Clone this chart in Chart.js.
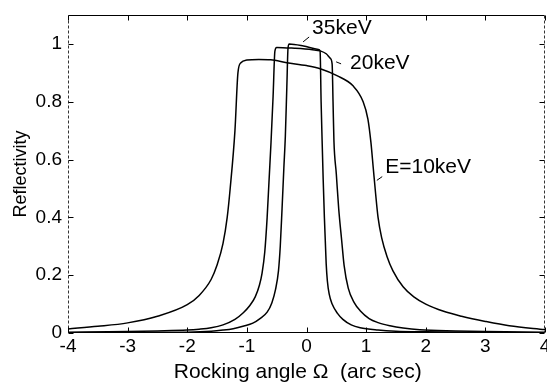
<!DOCTYPE html>
<html>
<head>
<meta charset="utf-8">
<script src="https://cdn.jsdelivr.net/npm/chart.js@4/dist/chart.umd.min.js"></script>
<style>
  html, body { margin: 0; padding: 0; background: #fff; }
  #wrap { width: 547px; height: 385px; }
</style>
</head>
<body>
<div id="wrap"><canvas id="chart" width="547" height="385"></canvas></div>
<script>
// Rocking curves: reflectivity vs. rocking angle (arc sec) at three photon energies
const angle10 = [-4, -3.5, -3, -2.5, -2, -1.8, -1.6, -1.5, -1.4, -1.33, -1.28, -1.2, -1.15, -1.1, -1.0, -0.8, -0.6, -0.33, 0, 0.23, 0.51, 0.78, 0.95, 1.03, 1.08, 1.12, 1.16, 1.2, 1.26, 1.35, 1.45, 1.62, 1.8, 2.0, 2.3, 2.6, 3.0, 3.4, 4];
const refl10  = [0.014, 0.023, 0.035, 0.058, 0.098, 0.13, 0.185, 0.235, 0.31, 0.40, 0.50, 0.70, 0.90, 0.935, 0.944, 0.946, 0.945, 0.935, 0.925, 0.914, 0.89, 0.855, 0.80, 0.74, 0.66, 0.57, 0.48, 0.40, 0.33, 0.265, 0.215, 0.16, 0.125, 0.10, 0.075, 0.058, 0.04, 0.025, 0.012];

const angle20 = [-4, -3, -2.5, -2, -1.8, -1.6, -1.4, -1.2, -1.06, -0.95, -0.86, -0.79, -0.745, -0.7, -0.66, -0.63, -0.595, -0.56, -0.53, -0.5, -0.2, 0.1, 0.23, 0.33, 0.40, 0.43, 0.445, 0.46, 0.50, 0.54, 0.59, 0.63, 0.70, 0.80, 0.90, 1.05, 1.2, 1.4, 1.62, 1.9, 2.5, 3, 4];
const refl20  = [0.003, 0.005, 0.007, 0.01, 0.013, 0.018, 0.028, 0.047, 0.07, 0.095, 0.125, 0.165, 0.207, 0.28, 0.40, 0.52, 0.66, 0.82, 0.975, 0.988, 0.985, 0.98, 0.976, 0.966, 0.95, 0.93, 0.80, 0.665, 0.55, 0.43, 0.32, 0.235, 0.155, 0.105, 0.077, 0.05, 0.036, 0.025, 0.017, 0.011, 0.007, 0.005, 0.003];

const angle35 = [-4, -3, -2, -1.6, -1.4, -1.23, -1.05, -0.9, -0.78, -0.66, -0.58, -0.52, -0.47, -0.44, -0.41, -0.38, -0.355, -0.33, -0.31, -0.29, -0.05, 0.2, 0.228, 0.245, 0.262, 0.28, 0.30, 0.315, 0.33, 0.35, 0.38, 0.43, 0.52, 0.61, 0.75, 0.9, 1.2, 1.5, 2, 3, 4];
const refl35  = [0.001, 0.002, 0.003, 0.006, 0.01, 0.015, 0.024, 0.034, 0.05, 0.072, 0.105, 0.15, 0.215, 0.30, 0.43, 0.57, 0.68, 0.85, 0.985, 1.0, 0.993, 0.981, 0.975, 0.80, 0.665, 0.53, 0.40, 0.32, 0.24, 0.18, 0.135, 0.10, 0.068, 0.047, 0.028, 0.018, 0.01, 0.006, 0.004, 0.002, 0.001];

const xTicks = [-4, -3, -2, -1, 0, 1, 2, 3, 4];
const yTicks = [0, 0.2, 0.4, 0.6, 0.8, 1];

// Curve labels with short leader strokes, in data units
const curveLabels = [
  { text: '35keV',   at: [0.094, 1.055], lead: [[-0.057, 1.007], [0.044, 1.024]] },
  { text: '20keV',   at: [0.73, 0.934],  lead: [[0.497, 0.938], [0.58, 0.931]] },
  { text: 'E=10keV', at: [1.32, 0.575],  lead: [[1.18, 0.528], [1.27, 0.541]] }
];

const FONT = "'Liberation Sans', Arial, sans-serif";

const pairs = (xs, ys) => xs.map((x, i) => ({ x, y: ys[i] }));
const curve = (label, xs, ys) => ({
  label,
  data: pairs(xs, ys),
  borderColor: '#000',
  borderWidth: 1.5,
  pointRadius: 0,
  fill: false,
  cubicInterpolationMode: 'monotone'
});

// Box frame with inward tick marks on all four sides
const frameTicks = {
  id: 'frameTicks',
  afterDatasetsDraw(chart) {
    const { ctx, chartArea: a, scales: { x, y } } = chart;
    const L = Math.round(a.left) + 0.5, R = Math.round(a.right) - 0.5;
    const T = Math.round(a.top) + 0.5, B = Math.round(a.bottom) - 0.5;
    ctx.save();
    ctx.lineWidth = 1;
    ctx.strokeStyle = '#000';
    ctx.beginPath();
    ctx.moveTo(L, T); ctx.lineTo(R, T);
    ctx.moveTo(L, B); ctx.lineTo(R, B);
    ctx.stroke();
    ctx.strokeStyle = '#333';
    ctx.setLineDash([3, 2]);
    ctx.beginPath();
    ctx.moveTo(L, T); ctx.lineTo(L, B);
    ctx.moveTo(R, T); ctx.lineTo(R, B);
    ctx.stroke();
    ctx.setLineDash([]);
    ctx.strokeStyle = '#000';
    const len = 5;
    ctx.beginPath();
    xTicks.forEach(v => {
      const px = Math.round(x.getPixelForValue(v)) + 0.5;
      ctx.moveTo(px, B); ctx.lineTo(px, B - len);
      ctx.moveTo(px, T); ctx.lineTo(px, T + len);
    });
    yTicks.forEach(v => {
      const py = Math.round(y.getPixelForValue(v)) + 0.5;
      ctx.moveTo(L, py); ctx.lineTo(L + len, py);
      ctx.moveTo(R, py); ctx.lineTo(R - len, py);
    });
    ctx.stroke();
    ctx.restore();
  }
};

// Energy labels beside the curves
const energyLabels = {
  id: 'energyLabels',
  afterDatasetsDraw(chart) {
    const { ctx, scales: { x, y } } = chart;
    ctx.save();
    ctx.fillStyle = '#000';
    ctx.strokeStyle = '#000';
    ctx.lineWidth = 1;
    ctx.font = '21px ' + FONT;
    ctx.textAlign = 'left';
    ctx.textBaseline = 'middle';
    curveLabels.forEach(l => {
      ctx.fillText(l.text, x.getPixelForValue(l.at[0]), y.getPixelForValue(l.at[1]));
      ctx.beginPath();
      ctx.moveTo(x.getPixelForValue(l.lead[0][0]), y.getPixelForValue(l.lead[0][1]));
      ctx.lineTo(x.getPixelForValue(l.lead[1][0]), y.getPixelForValue(l.lead[1][1]));
      ctx.stroke();
    });
    ctx.restore();
  }
};

new Chart(document.getElementById('chart'), {
  type: 'line',
  data: {
    datasets: [
      curve('E=10keV', angle10, refl10),
      curve('20keV', angle20, refl20),
      curve('35keV', angle35, refl35)
    ]
  },
  options: {
    responsive: false,
    animation: false,
    devicePixelRatio: 1,
    layout: { padding: { left: 0, right: 2, top: 15, bottom: 0 } },
    plugins: { legend: { display: false }, tooltip: { enabled: false } },
    scales: {
      x: {
        type: 'linear',
        min: -4, max: 4,
        grid: { display: false, drawTicks: false },
        border: { display: false },
        afterBuildTicks: s => { s.ticks = xTicks.map(v => ({ value: v })); },
        ticks: { color: '#000', padding: 2, maxRotation: 0, autoSkip: false,
                 font: { family: FONT, size: 19 } },
        title: { display: true, text: 'Rocking angle \u03A9  (arc sec)   ', color: '#000',
                 padding: { top: 0, bottom: 0 }, font: { family: FONT, size: 21 } },
        afterFit: s => { s.height = 52; s.paddingLeft = 0; s.paddingRight = 0; }
      },
      y: {
        min: 0, max: 1.1,
        grid: { display: false, drawTicks: false },
        border: { display: false },
        afterBuildTicks: s => { s.ticks = yTicks.map(v => ({ value: v })); },
        ticks: { color: '#000', padding: 6, autoSkip: false,
                 font: { family: FONT, size: 19 },
                 callback: v => String(Math.round(v * 10) / 10) },
        title: { display: true, text: 'Reflectivity', color: '#000',
                 padding: { top: 10, bottom: 0 }, font: { family: FONT, size: 18 } },
        afterFit: s => { s.width = 68; s.paddingTop = 0; s.paddingBottom = 0; }
      }
    }
  },
  plugins: [frameTicks, energyLabels]
});
</script>
</body>
</html>
